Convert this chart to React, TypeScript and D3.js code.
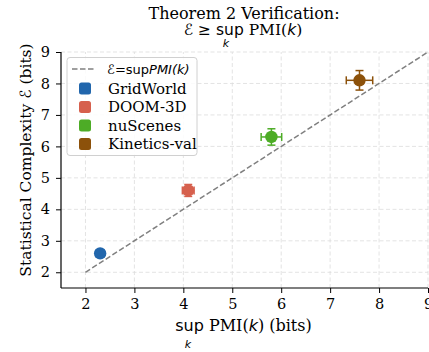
import React, { useEffect, useRef } from 'react';
import * as d3 from 'd3';

// data
const datasets = ['GridWorld', 'DOOM-3D', 'nuScenes', 'Kinetics-val'];
const supPmi = [2.3, 4.1, 5.8, 7.6];
const supPmiErr = [0.08, 0.12, 0.21, 0.27];
const complexity = [2.6, 4.6, 6.3, 8.1];
const complexityErr = [0.1, 0.19, 0.26, 0.31];
const colors = ['#2166ac', '#d6604d', '#4dac26', '#8c510a'];
const ticks = [2, 3, 4, 5, 6, 7, 8, 9];

const W = 429, H = 352;
const SERIF = '"DejaVu Serif", serif';
const SANS = '"DejaVu Sans", sans-serif';

export default function App() {
  const ref = useRef<SVGSVGElement>(null);

  useEffect(() => {
    const svg = d3.select(ref.current);
    svg.selectAll('*').remove();

    const x = d3.scaleLinear().domain([1.5, 9]).range([61, 428]);
    const y = d3.scaleLinear().domain([1.5, 9]).range([288, 52]);

    // grid
    const grid = svg.append('g');
    grid.selectAll('.gx').data(ticks).join('line')
      .attr('x1', d => x(d)).attr('x2', d => x(d))
      .attr('y1', y(1.5)).attr('y2', y(9))
      .attr('stroke', '#dcdcdc').attr('stroke-width', 0.8).attr('stroke-dasharray', '4,2.5');
    grid.selectAll('.gy').data(ticks).join('line')
      .attr('x1', x(1.5)).attr('x2', x(9))
      .attr('y1', d => y(d)).attr('y2', d => y(d))
      .attr('stroke', '#dcdcdc').attr('stroke-width', 0.8).attr('stroke-dasharray', '4,2.5');

    // identity line
    svg.append('line')
      .attr('x1', x(2)).attr('y1', y(2)).attr('x2', x(9)).attr('y2', y(9))
      .attr('stroke', '#808080').attr('stroke-width', 1.5).attr('stroke-dasharray', '5.5,2.5');

    // points with error bars
    const pts = svg.append('g').selectAll('g').data(datasets).join('g');
    pts.each(function (_, i) {
      const g = d3.select(this);
      const cx = x(supPmi[i]), cy = y(complexity[i]);
      const x0 = x(supPmi[i] - supPmiErr[i]), x1 = x(supPmi[i] + supPmiErr[i]);
      const y0 = y(complexity[i] - complexityErr[i]), y1 = y(complexity[i] + complexityErr[i]);
      const c = colors[i];
      const cap = 4;
      const segs = [
        [x0, cy, x1, cy], [cx, y0, cx, y1],
        [x0, cy - cap, x0, cy + cap], [x1, cy - cap, x1, cy + cap],
        [cx - cap, y0, cx + cap, y0], [cx - cap, y1, cx + cap, y1],
      ];
      g.selectAll('line').data(segs).join('line')
        .attr('x1', d => d[0]).attr('y1', d => d[1]).attr('x2', d => d[2]).attr('y2', d => d[3])
        .attr('stroke', c).attr('stroke-width', 1.5);
      g.append('circle').attr('cx', cx).attr('cy', cy).attr('r', 6.2).attr('fill', c);
    });

    // spines + ticks
    const xAxis = svg.append('g').attr('transform', `translate(0,${y(1.5)})`)
      .call(d3.axisBottom(x).tickValues(ticks).tickSize(5).tickPadding(6));
    const yAxis = svg.append('g').attr('transform', `translate(${x(1.5)},0)`)
      .call(d3.axisLeft(y).tickValues(ticks).tickSize(5).tickPadding(6));
    [xAxis, yAxis].forEach(a => {
      a.select('.domain').attr('stroke', '#000').attr('stroke-width', 1.2);
      a.selectAll('.tick line').attr('stroke', '#000').attr('stroke-width', 1);
      a.selectAll('.tick text').attr('font-family', SERIF).attr('font-size', 14.5).attr('fill', '#000');
    });
    xAxis.select('.domain').attr('d', `M${x(1.5)},0H${x(9)}`);
    yAxis.select('.domain').attr('d', `M0,${y(1.5)}V${y(9)}`);

    // title
    svg.append('text').attr('x', 244).attr('y', 18.5)
      .attr('text-anchor', 'middle').attr('font-family', SERIF).attr('font-size', 16).text('Theorem 2 Verification:');
    const t2 = svg.append('text').attr('x', 243).attr('y', 34.5)
      .attr('text-anchor', 'middle').attr('font-size', 15.5);
    t2.append('tspan').attr('font-family', SANS).attr('font-style', 'italic').text('ℰ');
    t2.append('tspan').attr('font-family', SANS).text(' ≥ sup ');
    t2.append('tspan').attr('font-family', SERIF).text('PMI(');
    t2.append('tspan').attr('font-family', SANS).attr('font-style', 'italic').text('k');
    t2.append('tspan').attr('font-family', SERIF).text(')');
    svg.append('text').attr('x', 226).attr('y', 46.5).attr('text-anchor', 'middle')
      .attr('font-family', SANS).attr('font-style', 'italic').attr('font-size', 11).text('k');

    // x label
    const xl = svg.append('text').attr('x', 243.5).attr('y', 330.5).attr('text-anchor', 'middle').attr('font-size', 16);
    xl.append('tspan').attr('font-family', SANS).text('sup ');
    xl.append('tspan').attr('font-family', SERIF).text('PMI(');
    xl.append('tspan').attr('font-family', SANS).attr('font-style', 'italic').text('k');
    xl.append('tspan').attr('font-family', SERIF).text(') (bits)');
    svg.append('text').attr('x', 188).attr('y', 347.5).attr('text-anchor', 'middle')
      .attr('font-family', SANS).attr('font-style', 'italic').attr('font-size', 11).text('k');

    // y label
    const yl = svg.append('text').attr('transform', 'translate(31,160) rotate(-90)')
      .attr('text-anchor', 'middle').attr('font-size', 15.5).attr('font-family', SERIF);
    yl.append('tspan').text('Statistical Complexity ');
    yl.append('tspan').attr('font-family', SANS).attr('font-style', 'italic').text('ℰ');
    yl.append('tspan').text(' (bits)');

    // legend
    const lg = svg.append('g');
    lg.append('rect').attr('x', 67).attr('y', 57.5).attr('width', 130).attr('height', 98).attr('rx', 3)
      .attr('fill', 'white').attr('fill-opacity', 0.85).attr('stroke', '#d0d0d0').attr('stroke-width', 1);
    lg.append('line').attr('x1', 72).attr('x2', 96).attr('y1', 69).attr('y2', 69)
      .attr('stroke', '#808080').attr('stroke-width', 1.5).attr('stroke-dasharray', '5.5,2.5');
    const l0 = lg.append('text').attr('x', 107).attr('y', 74).attr('font-size', 13).attr('font-family', SANS);
    l0.append('tspan').attr('font-style', 'italic').text('ℰ');
    l0.append('tspan').text('=sup');
    l0.append('tspan').attr('font-style', 'italic').text('PMI(k)');
    const rows = lg.selectAll('.row').data(datasets).join('g')
      .attr('transform', (_, i) => `translate(85,${88.5 + i * 18.5})`);
    rows.append('rect').attr('x', -6).attr('y', -6).attr('width', 12).attr('height', 12).attr('rx', 2.5)
      .attr('fill', (_, i) => colors[i]);
    rows.append('text').attr('x', 23).attr('y', 5).attr('font-family', SERIF).attr('font-size', 15)
      .text(d => d);
  }, []);

  return (
    <svg ref={ref} width={W} height={H} style={{ position: 'absolute', left: 0, top: 0, background: '#fff' }} />
  );
}
